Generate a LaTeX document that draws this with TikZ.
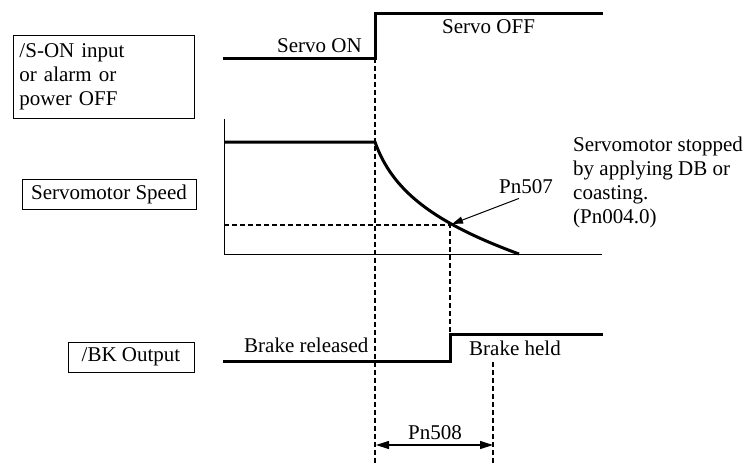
\documentclass[tikz,border=0pt]{standalone}
\usepackage{fontspec}
\setmainfont{Liberation Serif}
\usetikzlibrary{arrows.meta}
\tikzset{
  lbl/.style={inner sep=0pt, font=\fontsize{21}{24}\selectfont},
  boxed/.style={draw, line width=1pt, inner sep=0pt, font=\fontsize{21}{24}\selectfont},
  sig/.style={line width=3pt},
  axis/.style={line width=1pt},
  guide/.style={line width=1.1pt, dash pattern=on 5pt off 3pt},
}
\begin{document}
\begin{tikzpicture}[x=1pt,y=-1pt]
\useasboundingbox (0,0) rectangle (749,464);
% boxes on the left
\node[boxed, anchor=north west, minimum width=181pt, minimum height=83pt, text width=169pt, inner xsep=6pt, align=left] (son) at (13,35) {/S-ON input\\or alarm or\\power OFF};
\node[boxed, minimum width=174pt, minimum height=30pt] (spd) at (109,194) {Servomotor Speed};
\node[boxed, minimum width=126pt, minimum height=30pt] (bk) at (131,357) {/BK Output};
% top signal
\draw[sig] (223,58) -- (375,58) -- (375,13) -- (603,13);
\node[lbl, anchor=base east] (son-lbl) at (362,52) {Servo ON};
\node[lbl, anchor=base west] (soff-lbl) at (442,33) {Servo OFF};
% speed plot
\draw[axis] (224,119) -- (224,254) -- (602,254);
\draw[sig] (224,142) -- (375,142) .. controls (392,190) and (432,222) .. (519,254);
\draw[guide] (224,225) -- (450,225) -- (450,334);
\node[lbl, anchor=base] (pn507) at (526,193) {Pn507};
\coordinate (tip507) at (452,224);
\draw[line width=1pt, -{Triangle[length=11pt,width=7pt]}] ([shift={(-7,5)}]pn507.south) -- (tip507);
\node[lbl, anchor=north west, align=left] (stopnote) at (573,137) {Servomotor stopped\\by applying DB or\\coasting.\\(Pn004.0)};
% brake signal
\draw[sig] (223,361) -- (450,361) -- (450,334) -- (603,334);
\node[lbl, anchor=base west] (brel) at (244,352) {Brake released};
\node[lbl, anchor=base west] (bheld) at (469,355) {Brake held};
% timing guides
\draw[guide] (375,58) -- (375,464);
\draw[guide] (493,362) -- (493,464);
\coordinate (a508l) at (376,445);
\coordinate (a508r) at (493,445);
\draw[line width=1.2pt, {Triangle[length=13pt,width=8pt]}-{Triangle[length=13pt,width=8pt]}] (a508l) -- (a508r);
\node[lbl, anchor=base] (pn508) at (435,439) {Pn508};
\end{tikzpicture}
\end{document}
